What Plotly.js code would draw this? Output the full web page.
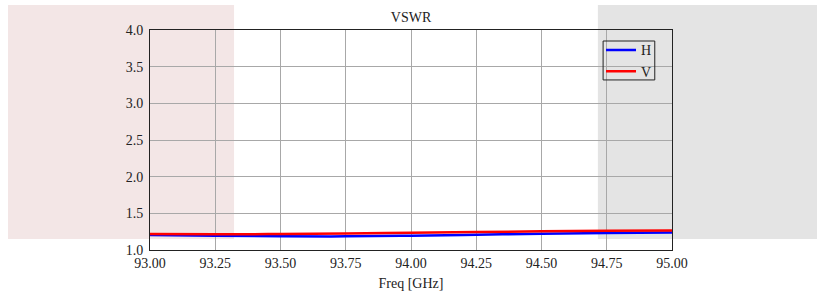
<!DOCTYPE html>
<html><head><meta charset="utf-8">
<script src="https://cdn.plot.ly/plotly-3.0.1.min.js"></script>
<style>body{margin:0;padding:0;background:#fff}#chart{width:817px;height:293px}</style>
</head><body><div id="chart"></div>
<script>
const freq = [93.00, 93.25, 93.50, 93.75, 94.00, 94.25, 94.50, 94.75, 95.00];
const vswrH = [1.205, 1.195, 1.188, 1.186, 1.195, 1.208, 1.222, 1.232, 1.240];
const vswrV = [1.218, 1.214, 1.218, 1.225, 1.236, 1.246, 1.254, 1.261, 1.267];
const seriesNames = ['H', 'V'];

const fam = 'Liberation Serif, Times New Roman, serif';
const font = {family: fam, size: 14, color: '#222'};
const data = [
  {x: freq, y: vswrH, name: seriesNames[0], type: 'scatter', mode: 'lines', line: {color: '#0000ff', width: 2.5, shape: 'spline'}},
  {x: freq, y: vswrV, name: seriesNames[1], type: 'scatter', mode: 'lines', line: {color: '#ff0000', width: 2.5, shape: 'spline'}}
];
const layout = {
  width: 817, height: 293,
  margin: {l: 150, r: 145, t: 30, b: 43},
  paper_bgcolor: '#fff', plot_bgcolor: 'rgba(0,0,0,0)',
  font: font,
  title: {text: 'VSWR', font: {family: fam, size: 14, color: '#222'}, x: 0.5, xref: 'paper', y: 0.958, yanchor: 'top'},
  showlegend: true,
  legend: {x: 0.864, xanchor: 'left', y: 0.98, yanchor: 'top', bgcolor: 'rgba(255,255,255,0)', borderwidth: 0, font: {family: fam, size: 14, color: '#222'}, tracegroupgap: 0, itemwidth: 30},
  xaxis: {range: [93, 95], dtick: 0.25, tick0: 93, tickformat: '.2f', showgrid: true, gridcolor: '#a8a8a8', gridwidth: 1,
          showline: true, linecolor: '#222', linewidth: 1, mirror: true, ticks: '', zeroline: false, tickfont: {family: fam, size: 14, color: '#222'},
          title: {text: 'Freq [GHz]', font: {family: fam, size: 14, color: '#222'}, standoff: 8}},
  yaxis: {range: [1, 4], dtick: 0.5, tick0: 1, tickformat: '.1f', showgrid: true, gridcolor: '#a8a8a8', gridwidth: 1, ticklabelstandoff: 3,
          showline: true, linecolor: '#222', linewidth: 1, mirror: true, ticks: '', zeroline: false, tickfont: {family: fam, size: 14, color: '#222'}},
  shapes: [
    {type: 'rect', layer: 'below', xref: 'paper', yref: 'paper', x0: -0.272, x1: 0.161, y0: 0.05, y1: 1.114, fillcolor: '#f3e6e6', line: {width: 0}},
    {type: 'rect', layer: 'below', xref: 'paper', yref: 'paper', x0: 0.858, x1: 1.28, y0: 0.05, y1: 1.114, fillcolor: '#e4e4e4', line: {width: 0}},
    {type: 'rect', layer: 'above', xref: 'paper', yref: 'paper', x0: 0.868, x1: 0.967, y0: 0.773, y1: 0.95, fillcolor: 'rgba(0,0,0,0)', line: {color: '#222', width: 1}}
  ]
};
Plotly.newPlot('chart', data, layout, {displayModeBar: false, staticPlot: true});
</script></body></html>
